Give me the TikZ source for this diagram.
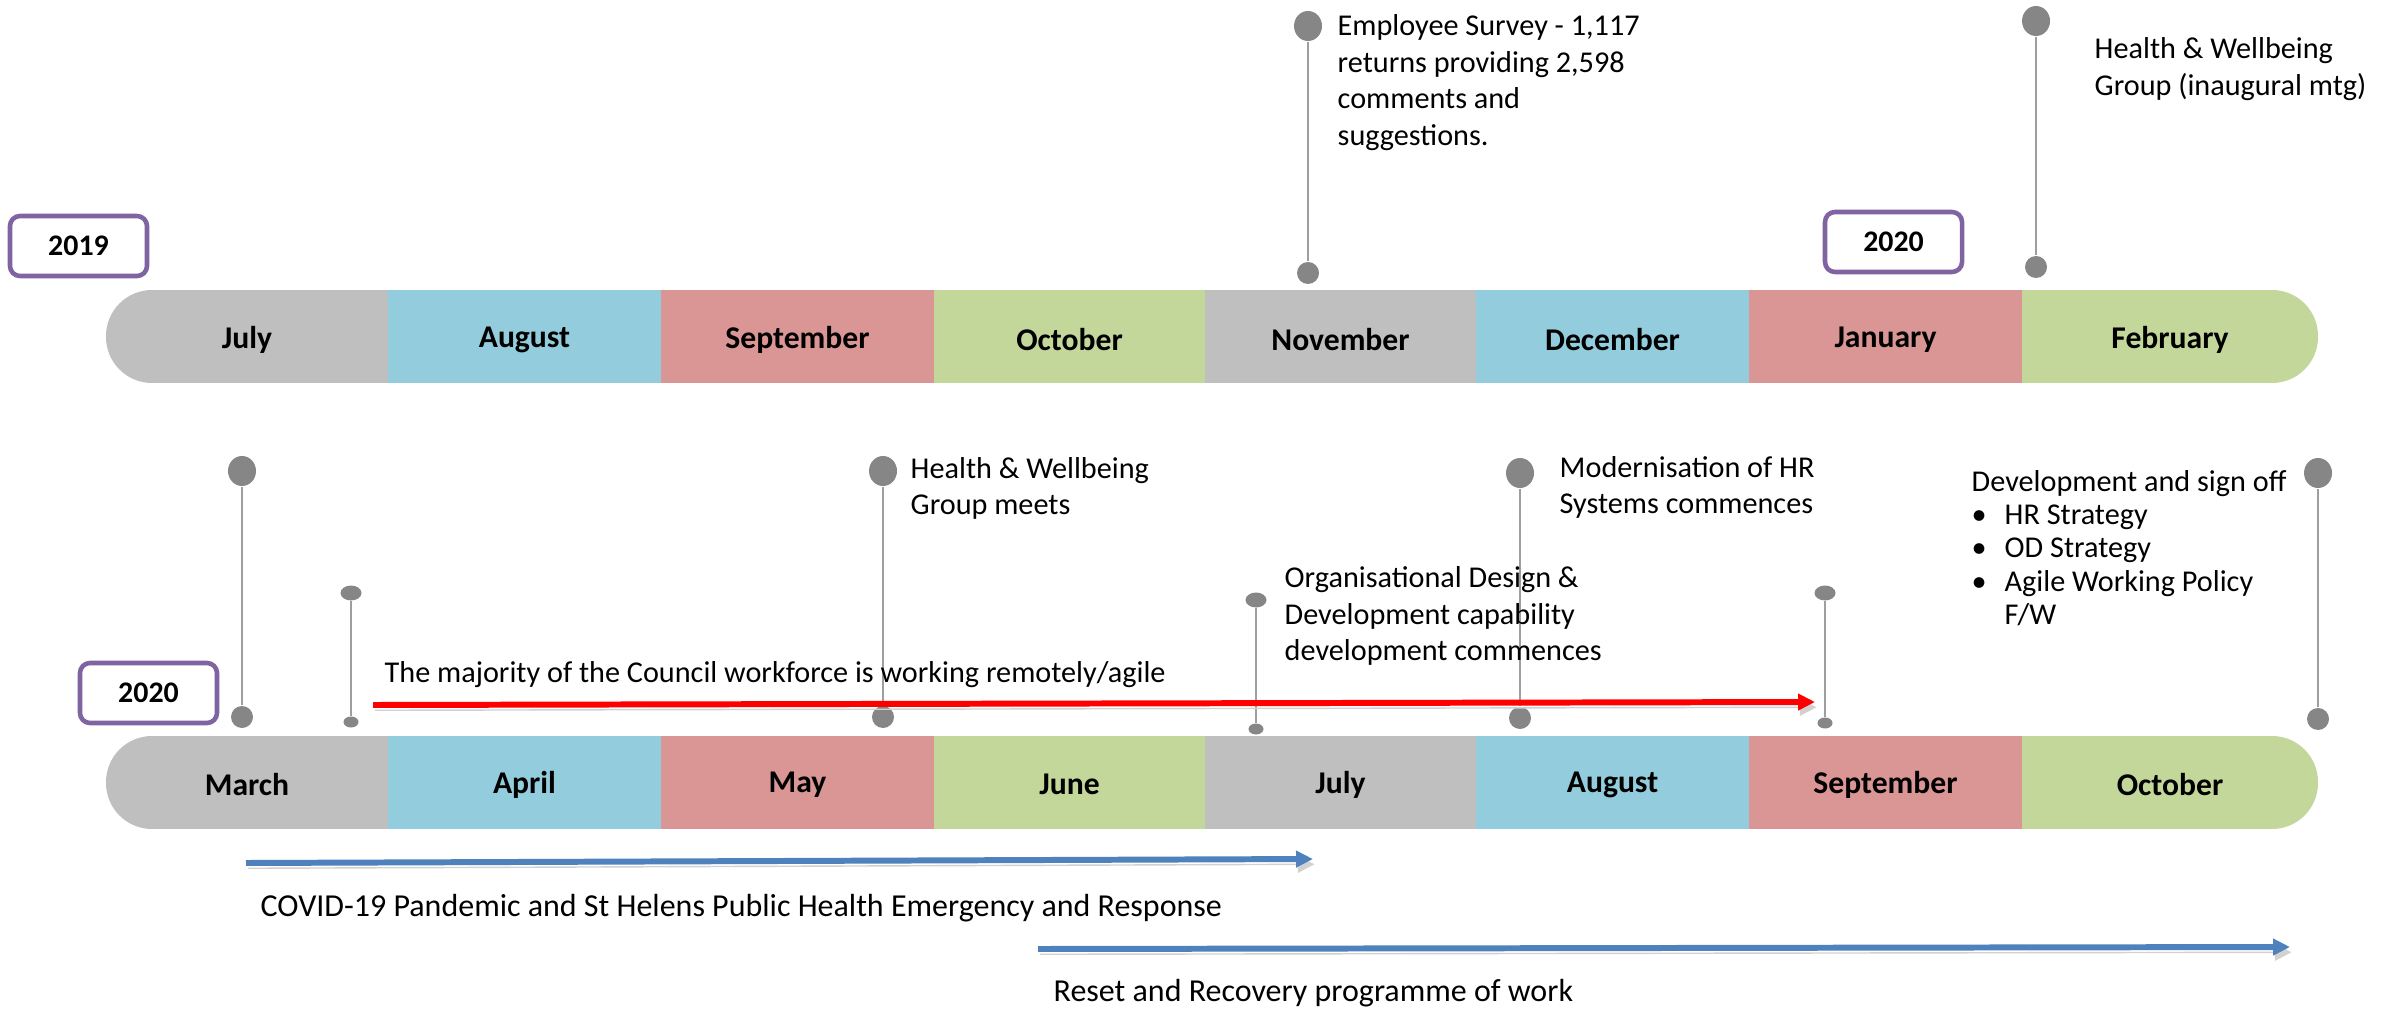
\documentclass[tikz,border=0pt]{standalone}
\usepackage{fontspec}
\setmainfont{Carlito}
\usetikzlibrary{arrows.meta,shapes.geometric,fadings}

\definecolor{mgrey}{HTML}{BFBFBF}
\definecolor{mblue}{HTML}{93CDDD}
\definecolor{mred}{HTML}{D99694}
\definecolor{mgreen}{HTML}{C4D79B}
\definecolor{yearpurple}{HTML}{8064A2}
\definecolor{pingrey}{HTML}{868686}
\definecolor{arrowblue}{HTML}{4F81BD}

\tikzfading[name=sidefade, left color=transparent!100, middle color=transparent!0, right color=transparent!100]

\tikzset{
  month/.style={font=\fontsize{9}{11}\selectfont\bfseries},
  year/.style={draw=yearpurple, line width=1.3pt, rounded corners=0.1cm, fill=white,
    minimum width=1.37cm, minimum height=0.6cm, font=\fontsize{8.5}{10}\selectfont\bfseries},
  note/.style={anchor=west, align=left, inner sep=0pt, font=\fontsize{8.6}{10.4}\selectfont},
  pinhead/.style={ellipse, fill=pingrey, inner sep=0pt, minimum width=0.28cm, minimum height=0.30cm},
  pinfoot/.style={ellipse, fill=pingrey, inner sep=0pt, minimum width=0.22cm, minimum height=0.22cm},
  smallhead/.style={ellipse, fill=pingrey, inner sep=0pt, minimum width=0.21cm, minimum height=0.15cm},
  smallfoot/.style={ellipse, fill=pingrey, inner sep=0pt, minimum width=0.15cm, minimum height=0.11cm},
  pinline/.style={draw=pingrey!80, line width=0.6pt},
  span/.style={line width=1.7pt, -{Triangle[width=0.16cm,length=0.17cm]},
    preaction={draw=black!18, transform canvas={shift={(0.5pt,-1.5pt)}}}},
  barshadow/.style={top color=black!16, bottom color=white, path fading=sidefade}
}

\begin{document}
\begin{tikzpicture}
    \useasboundingbox (0,0) rectangle (23.94,10.10);
    \begin{scope}[yshift=6.735cm]
      \shade[barshadow] (0.6,-0.465) rectangle (23.8,-1.3);
      \begin{scope}
        \clip[rounded corners=0.46cm] (1.06,-0.465) rectangle (23.18,0.465);
        \foreach \m/\c/\xa/\xb [count=\i] in {July/mgrey/1.06/3.88, August/mblue/3.88/6.61,
          September/mred/6.61/9.34, October/mgreen/9.34/12.05, November/mgrey/12.05/14.76,
          December/mblue/14.76/17.49, January/mred/17.49/20.22, February/mgreen/20.22/23.18}
        {
          \fill[\c] (\xa,-0.465) rectangle (\xb,0.465);
          \node[month] (upper\i) at ({(\xa+\xb)/2},-0.03) {\m};
        }
      \end{scope}
    \end{scope}
    \begin{scope}[yshift=2.275cm]
      \shade[barshadow] (0.6,-0.465) rectangle (23.8,-2.2);
      \begin{scope}
        \clip[rounded corners=0.46cm] (1.06,-0.465) rectangle (23.18,0.465);
        \foreach \m/\c/\xa/\xb [count=\i] in {March/mgrey/1.06/3.88, April/mblue/3.88/6.61,
          May/mred/6.61/9.34, June/mgreen/9.34/12.05, July/mgrey/12.05/14.76,
          August/mblue/14.76/17.49, September/mred/17.49/20.22, October/mgreen/20.22/23.18}
        {
          \fill[\c] (\xa,-0.465) rectangle (\xb,0.465);
          \node[month] (lower\i) at ({(\xa+\xb)/2},-0.02) {\m};
        }
      \end{scope}
    \end{scope}

    \node[year] (year2019) at (0.785,7.64) {2019};
    \node[year] (year2020a) at (18.935,7.68) {2020};
    \node[year] (year2020b) at (1.485,3.17) {2020};

    \foreach \n/\x/\ya/\yb in {survey/13.08/9.84/7.37, inaugural/20.36/9.89/7.43,
      march/2.42/5.39/2.93, meets/8.83/5.39/2.93, hrsys/15.20/5.37/2.92, signoff/23.18/5.37/2.91}
    {
      \node[pinhead] (\n top) at (\x,\ya) {};
      \node[pinfoot] (\n foot) at (\x,\yb) {};
      \draw[pinline] (\n top) -- (\n foot);
    }
    \foreach \n/\x/\ya/\yb in {remote/3.51/4.17/2.88, orgdes/12.56/4.10/2.81, agile/18.25/4.17/2.87}
    {
      \node[smallhead] (\n top) at (\x,\ya) {};
      \node[smallfoot] (\n foot) at (\x,\yb) {};
      \draw[pinline] (\n top) -- (\n foot);
    }

    \node[note] (surveytext) at (13.37,9.275) {Employee Survey - 1,117\\returns providing 2,598\\comments and\\suggestions.};
    \node[note] (inauguraltext) at (20.94,9.41) {Health \& Wellbeing\\Group (inaugural mtg)};
    \node[note] (meetstext) at (9.10,5.215) {Health \& Wellbeing\\Group meets};
    \node[note] (orgdestext) at (12.84,3.94) {Organisational Design \&\\Development capability\\development commences};
    \node[note] (hrsystext) at (15.59,5.225) {Modernisation of HR\\Systems commences};
    \node[note, font=\fontsize{8.6}{9.5}\selectfont] (signofftext) at (19.71,4.62) {Development and sign off\\
      \makebox[0.33cm][l]{\textbullet}HR Strategy\\
      \makebox[0.33cm][l]{\textbullet}OD Strategy\\
      \makebox[0.33cm][l]{\textbullet}Agile Working Policy\\
      \hspace*{0.33cm}F/W};
    \node[note] (remotetext) at (3.84,3.35) {The majority of the Council workforce is working remotely/agile};
    \node[note, font=\fontsize{9.1}{11}\selectfont] (covidtext) at (2.60,1.02) {COVID-19 Pandemic and St Helens Public Health Emergency and Response};
    \node[note, font=\fontsize{9.1}{11}\selectfont] (resettext) at (10.53,0.17) {Reset and Recovery programme of work};

    \coordinate (remotestart) at (3.73,3.05);
    \coordinate (remoteend) at (18.15,3.08);
    \coordinate (covidstart) at (2.46,1.47);
    \coordinate (covidend) at (13.13,1.51);
    \coordinate (resetstart) at (10.38,0.61);
    \coordinate (resetend) at (22.90,0.63);
    \draw[span, red] (remotestart) -- (remoteend);
    \draw[span, arrowblue] (covidstart) -- (covidend);
    \draw[span, arrowblue] (resetstart) -- (resetend);
\end{tikzpicture}
\end{document}
